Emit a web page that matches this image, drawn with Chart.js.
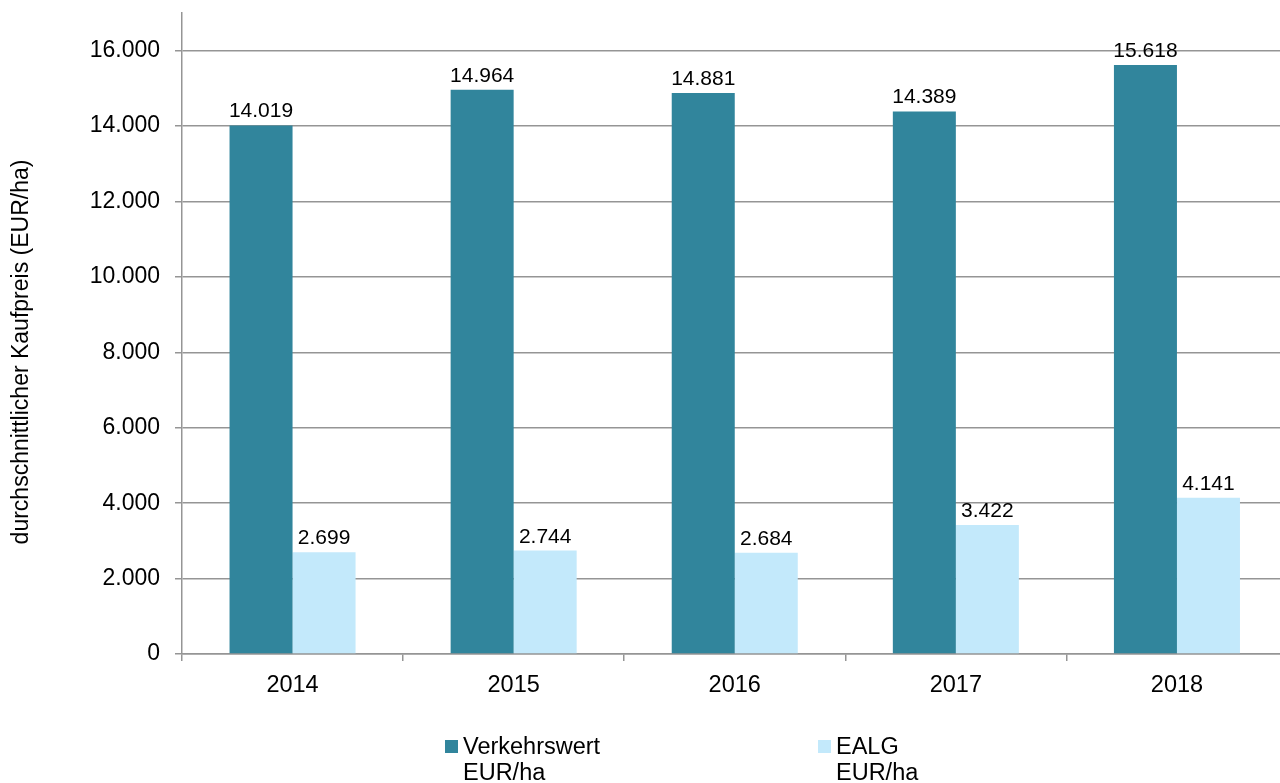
<!DOCTYPE html>
<html>
<head>
<meta charset="utf-8">
<script src="https://cdn.jsdelivr.net/npm/chart.js@4/dist/chart.umd.min.js"></script>
<style>
  html, body { margin: 0; padding: 0; background: #fff; overflow: hidden; }
  #wrap { position: relative; width: 1290px; height: 783px; }
  #legend { position: absolute; left: 445px; top: 733px; display: flex;
            font-family: "Liberation Sans", Arial, sans-serif; font-size: 23.5px; line-height: 26px; color: #000; }
  .item { width: 373px; display: flex; align-items: flex-start; }
  .box { width: 13px; height: 13px; margin-top: 7px; margin-right: 5px; flex: none; }
</style>
</head>
<body>
<div id="wrap">
  <canvas id="kaufpreis" width="1290" height="783"></canvas>
  <div id="legend"></div>
</div>
<script>
const years = ["2014", "2015", "2016", "2017", "2018"]
const verkehrswert = [14019, 14964, 14881, 14389, 15618]
const ealg = [2699, 2744, 2684, 3422, 4141]
const yTicks = [0, 2000, 4000, 6000, 8000, 10000, 12000, 14000, 16000]
const seriesNames = [["Verkehrswert", "EUR/ha"], ["EALG", "EUR/ha"]]
const yTitle = "durchschnittlicher Kaufpreis (EUR/ha)"

const FONT = '"Liberation Sans", Arial, sans-serif'
const GRID = "#959595"

// 14019 -> "14.019"
function deNum(v) {
  return String(Math.round(v)).replace(/\B(?=(\d{3})+(?!\d))/g, ".")
}

// value labels above each bar
const barLabels = {
  id: "barLabels",
  afterDatasetsDraw(chart) {
    const ctx = chart.ctx
    ctx.save()
    ctx.font = "21px " + FONT
    ctx.fillStyle = "#000"
    ctx.textAlign = "center"
    ctx.textBaseline = "alphabetic"
    chart.data.datasets.forEach((ds, i) => {
      chart.getDatasetMeta(i).data.forEach((bar, j) => {
        ctx.fillText(deNum(ds.data[j]), bar.x, bar.y - 8)
      })
    })
    ctx.restore()
  }
}

// rotated y axis title
const sideTitle = {
  id: "sideTitle",
  afterDraw(chart) {
    const ctx = chart.ctx
    ctx.save()
    ctx.translate(22, 352)
    ctx.rotate(-Math.PI / 2)
    ctx.font = "23px " + FONT
    ctx.fillStyle = "#000"
    ctx.textAlign = "center"
    ctx.textBaseline = "middle"
    ctx.fillText(yTitle, 0, 0)
    ctx.restore()
  }
}

const chart = new Chart(document.getElementById("kaufpreis"), {
  type: "bar",
  data: {
    labels: years,
    datasets: [{
      label: seriesNames[0],
      data: verkehrswert,
      backgroundColor: "#31859C",
      borderWidth: 0
    }, {
      label: seriesNames[1],
      data: ealg,
      backgroundColor: "#C3E9FB",
      borderWidth: 0
    }]
  },
  options: {
    responsive: false,
    animation: false,
    categoryPercentage: 0.57,
    barPercentage: 1,
    layout: { padding: { top: 13, right: 2.5, left: 0, bottom: 0 } },
    plugins: {
      legend: { display: false },
      tooltip: { enabled: false }
    },
    scales: {
      x: {
        afterFit: s => { s.height = 129 },
        border: { color: GRID, width: 1.5 },
        grid: { offset: true, drawOnChartArea: false, tickLength: 7, color: GRID, lineWidth: 1.5 },
        ticks: { color: "#000", padding: 10, font: { family: FONT, size: 23.5 } }
      },
      y: {
        min: 0,
        max: 17000,
        afterFit: s => {
          s.width = 182
          // top tick sits well below the axis end, no label padding needed
          s.paddingTop = 0
          s.paddingBottom = 0
        },
        afterBuildTicks: s => { s.ticks = yTicks.map(v => ({ value: v })) },
        border: { color: GRID, width: 1.5 },
        grid: { tickLength: 7, color: GRID, lineWidth: 1.5 },
        ticks: {
          padding: 15,
          color: "#000",
          font: { family: FONT, size: 23 },
          callback: v => deNum(v)
        }
      }
    }
  },
  plugins: [barLabels, sideTitle]
})

// legend built from the dataset labels and colours
const legend = document.getElementById("legend")
chart.data.datasets.forEach(ds => {
  const item = document.createElement("div")
  item.className = "item"
  const box = document.createElement("div")
  box.className = "box"
  box.style.background = ds.backgroundColor
  const txt = document.createElement("div")
  txt.innerHTML = ds.label.join("<br>")
  item.appendChild(box)
  item.appendChild(txt)
  legend.appendChild(item)
})
</script>
</body>
</html>
